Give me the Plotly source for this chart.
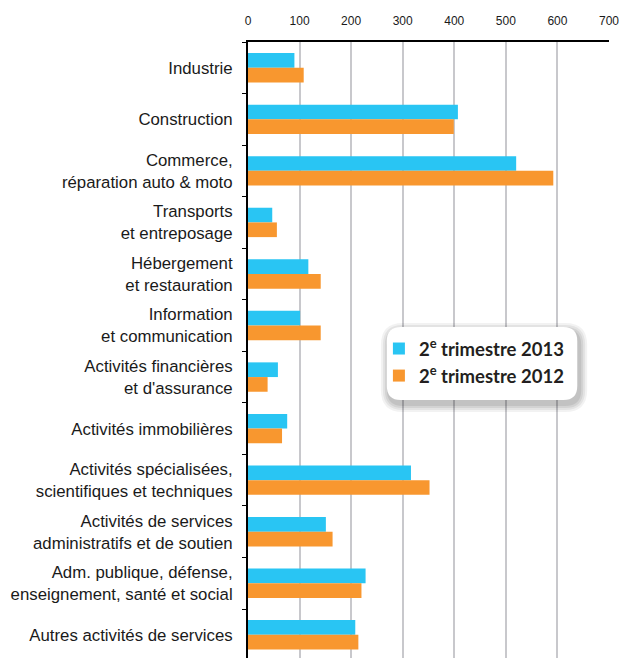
import plotly.graph_objects as go

categories = [
    "Industrie",
    "Construction",
    "Commerce,<br>réparation auto & moto",
    "Transports<br>et entreposage",
    "Hébergement<br>et restauration",
    "Information<br>et communication",
    "Activités financières<br>et d'assurance",
    "Activités immobilières",
    "Activités spécialisées,<br>scientifiques et techniques",
    "Activités de services<br>administratifs et de soutien",
    "Adm. publique, défense,<br>enseignement, santé et social",
    "Autres activités de services",
]
t2_2013 = [90, 407, 520, 47, 117, 101, 58, 76, 316, 151, 228, 208]
t2_2012 = [108, 399, 592, 56, 141, 141, 38, 66, 352, 164, 220, 214]

BLUE = "#29c5f3"
ORANGE = "#f8972f"

fig = go.Figure()
fig.add_trace(go.Bar(y=categories, x=t2_2013, orientation="h", name="2<sup>e</sup> trimestre 2013",
                     marker=dict(color=BLUE, line=dict(width=0))))
fig.add_trace(go.Bar(y=categories, x=t2_2012, orientation="h", name="2<sup>e</sup> trimestre 2012",
                     marker=dict(color=ORANGE, line=dict(width=0))))

# rounded legend box with a soft shadow (paper coords)
W, H = 619, 658
L, R, T, B = 248, 612, 42, 658
pw, ph = R - L, B - T


def px2paper(x, y):
    return (x - L) / pw, 1 - (y - T) / ph


def rounded(x0, y0, x1, y1, r):
    rx, ry = r / pw, r / ph
    a0, b0 = px2paper(x0, y0)
    a1, b1 = px2paper(x1, y1)
    return (f"M{a0 + rx},{b0} L{a1 - rx},{b0} Q{a1},{b0} {a1},{b0 - ry} "
            f"L{a1},{b1 + ry} Q{a1},{b1} {a1 - rx},{b1} L{a0 + rx},{b1} "
            f"Q{a0},{b1} {a0},{b1 + ry} L{a0},{b0 - ry} Q{a0},{b0} {a0 + rx},{b0} Z")


shapes = []
for i, op in enumerate([0.05, 0.06, 0.07, 0.08]):
    g = 8 - 2 * i
    shapes.append(dict(type="path", xref="paper", yref="paper", layer="above",
                       path=rounded(388 - g + 2, 327 - g + 4, 580 + g + 2, 400 + g + 4, 14 + g),
                       fillcolor=f"rgba(0,0,0,{op})", line=dict(width=0)))
shapes.append(dict(type="path", xref="paper", yref="paper", layer="above",
                   path=rounded(388, 327, 580, 400, 14),
                   fillcolor="white", line=dict(width=0)))

fig.update_layout(
    width=W, height=H,
    margin=dict(l=L, r=W - R, t=T, b=0),
    paper_bgcolor="white", plot_bgcolor="white",
    barmode="group", bargap=0.43, bargroupgap=0,
    font=dict(family="Liberation Sans, Arial, sans-serif", color="#1a1a1a"),
    xaxis=dict(
        side="top", range=[0, 700], dtick=100, tick0=0,
        showline=True, linecolor="black", linewidth=2,
        showgrid=True, gridcolor="#c8c8cc", gridwidth=1.5,
        zeroline=False, ticks="", tickfont=dict(size=12, color="#1a1a1a"),
        ticklabelstandoff=10, ticklabeloverflow="allow",
    ),
    yaxis=dict(
        range=[11.45, -0.5], showline=True, linecolor="black", linewidth=2,
        ticks="outside", tickson="boundaries", ticklen=4, tickcolor="black", tickwidth=1,
        showgrid=False, tickfont=dict(size=16.8, color="#1a1a1a"), ticklabelstandoff=10,
    ),
    legend=dict(
        x=(380 - L) / pw, y=1 - (330 - T) / ph, xanchor="left", yanchor="top",
        bgcolor="rgba(0,0,0,0)", borderwidth=0, traceorder="normal",
        font=dict(family="Lato, Open Sans, sans-serif", size=18.5, color="#231f20", weight="bold"),
        itemwidth=30, tracegroupgap=5,
    ),
    shapes=shapes,
    showlegend=True,
)

fig.write_html("out.html", config={"displayModeBar": False},
               post_script="document.body.style.margin='0';document.body.style.overflow='hidden';")
